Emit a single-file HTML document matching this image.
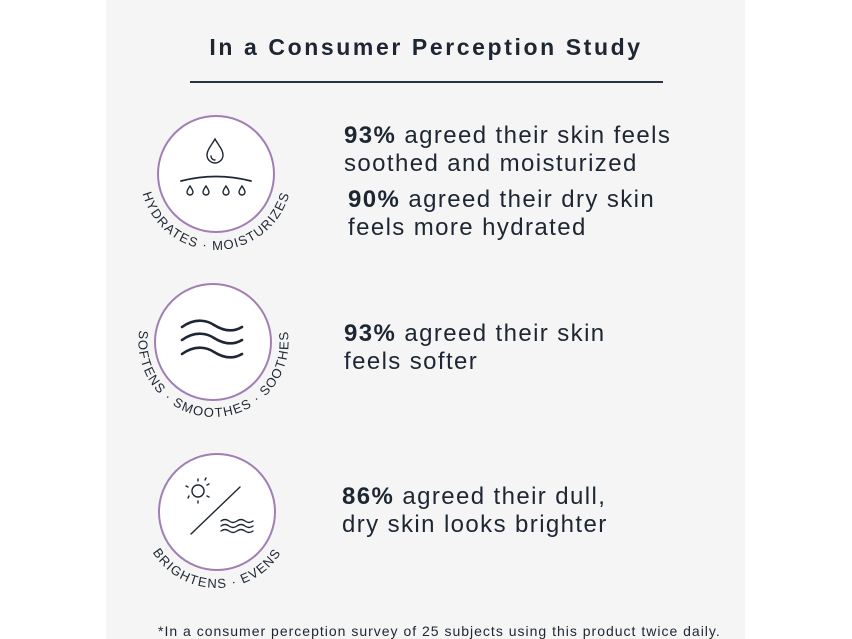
<!DOCTYPE html>
<html><head><meta charset="utf-8"><style>
html,body{margin:0;padding:0;background:#fff;}
body{width:852px;height:639px;position:relative;overflow:hidden;font-family:"Liberation Sans",sans-serif;color:#1d2633;}
.panel{position:absolute;left:106px;top:0;width:639px;height:639px;background:#f5f5f5;}
.t{position:absolute;white-space:nowrap;}
.s{font-size:24px;line-height:28px;color:#1d2633;letter-spacing:1.4px;}
.s b{font-weight:bold;}
</style></head><body>
<div class="panel"></div>
<div class="t" style="left:0;width:852px;text-align:center;top:34px;font-size:23px;font-weight:bold;letter-spacing:2.6px;color:#1d2633;">In a Consumer Perception Study</div>
<div style="position:absolute;left:190px;top:81px;width:473px;height:2px;background:#2a3340;"></div>

<div class="t s" style="left:344px;top:122px;"><b>93%</b> agreed their skin feels<br>soothed and moisturized</div>
<div class="t s" style="left:348px;top:186px;"><b>90%</b> agreed their dry skin<br>feels more hydrated</div>
<div class="t s" style="left:344px;top:320px;"><b>93%</b> agreed their skin<br>feels softer</div>
<div class="t s" style="left:342px;top:483px;"><b>86%</b> agreed their dull,<br>dry skin looks brighter</div>
<div class="t" style="left:158px;top:623px;font-size:14px;letter-spacing:1px;color:#1d2633;">*In a consumer perception survey of 25 subjects using this product twice daily.</div>

<svg width="852" height="639" style="position:absolute;left:0;top:0" font-family="Liberation Sans, sans-serif">
<defs>
<path id="p1" d="M140,174 A76,76 0 0 0 292,174"/>
<path id="p2" d="M213,267 A75,75 0 1 0 214,267"/>
<path id="p3" d="M141,512 A76,76 0 0 0 293,512"/>
</defs>
<g fill="#fff" stroke="#a17fb3" stroke-width="2">
<circle cx="216" cy="174" r="58"/>
<circle cx="213" cy="342" r="58"/>
<circle cx="217" cy="512" r="58"/>
</g>
<g fill="none" stroke="#1d2633" stroke-width="1.4" stroke-linecap="round">
<path d="M215,139 C211,146 207,150 207,155 A8,8 0 0 0 223,155 C223,150 219,146 215,139 Z"/>
<path d="M211,156 A4,4 0 0 0 215,160"/>
<path d="M181,181 Q216,172 251,181" stroke-width="1.8"/>
<path d="M190,186 c-2,3 -3,5 -3,6 a3,3 0 0 0 6,0 c0,-1 -1,-3 -3,-6z"/>
<path d="M206,186 c-2,3 -3,5 -3,6 a3,3 0 0 0 6,0 c0,-1 -1,-3 -3,-6z"/>
<path d="M226,186 c-2,3 -3,5 -3,6 a3,3 0 0 0 6,0 c0,-1 -1,-3 -3,-6z"/>
<path d="M242,186 c-2,3 -3,5 -3,6 a3,3 0 0 0 6,0 c0,-1 -1,-3 -3,-6z"/>
<g stroke-width="2.6">
<path d="M182,327 C196,317 208,321 214,325 C222,330 232,333 242,327"/>
<path d="M182,340 C196,330 208,334 214,338 C222,343 232,346 242,340"/>
<path d="M182,354 C196,344 208,348 214,352 C222,357 232,360 242,354"/>
</g>
<circle cx="198" cy="491" r="6"/>
<path d="M198,481v-2M207,485l2-1M207,496l2,1M198,501v2M189,496l-1,2M188,487l-2,-1M205,480l1,-2"/>
<path d="M191,534 L240,487"/>
<path d="M221,521 q4,-3 8,0 q4,3 8,0 q4,-3 8,0 q4,3 8,0"/>
<path d="M221,526 q4,-3 8,0 q4,3 8,0 q4,-3 8,0 q4,3 8,0"/>
<path d="M221,531 q4,-3 8,0 q4,3 8,0 q4,-3 8,0 q4,3 8,0"/>
</g>
<g fill="#1d2633" font-size="13" letter-spacing="1.3">
<text><textPath href="#p1" startOffset="50%" text-anchor="middle">HYDRATES · MOISTURIZES</textPath></text>
<text><textPath href="#p2" startOffset="50%" text-anchor="middle">SOFTENS · SMOOTHES · SOOTHES</textPath></text>
<text><textPath href="#p3" startOffset="50%" text-anchor="middle">BRIGHTENS · EVENS</textPath></text>
</g>
</svg>
</body></html>
